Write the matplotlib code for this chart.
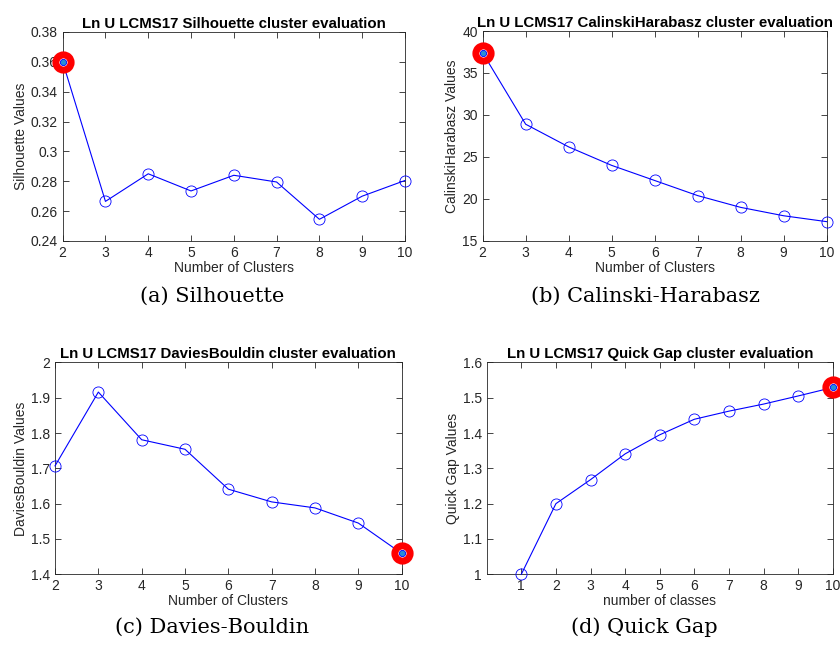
import matplotlib
matplotlib.use("Agg")
import matplotlib.pyplot as plt
from matplotlib.ticker import FuncFormatter

plt.rcParams['font.family'] = ['Liberation Sans', 'DejaVu Sans']

# Cluster evaluation results
clusters = [2, 3, 4, 5, 6, 7, 8, 9, 10]
silhouette = [0.360, 0.2665, 0.285, 0.2735, 0.284, 0.2795, 0.2545, 0.270, 0.2805]
calinski = [37.4, 28.9, 26.2, 24.0, 22.2, 20.4, 19.0, 18.0, 17.3]
davies = [1.707, 1.916, 1.781, 1.754, 1.641, 1.605, 1.588, 1.545, 1.459]
classes = [1, 2, 3, 4, 5, 6, 7, 8, 9, 10]
quickgap = [1.0, 1.2, 1.268, 1.341, 1.395, 1.439, 1.462, 1.482, 1.505, 1.529]

# Index of the optimal number of clusters for each criterion
best_sil, best_ch, best_db, best_qg = 0, 0, 8, 9

AX_COLOR = '#262626'
LINE_BLUE = '#0000ff'

fig = plt.figure(figsize=(8.4, 6.46), dpi=100)


def panel(rect, x, y, best, xlim, ylim, yticks, xticks, title, xlabel, ylabel, caption, cap_xy):
    ax = fig.add_axes(rect)
    ax.plot(x, y, '-', color=LINE_BLUE, lw=0.8, marker='o', ms=8, mfc='none',
            mec=LINE_BLUE, mew=0.6, zorder=3, clip_on=False)
    ax.plot(x[best], y[best], 'o', ms=11, mfc='white', mec='#ff0000', mew=5,
            zorder=4, clip_on=False)
    ax.plot(x[best], y[best], 'o', ms=4.5, mfc='#2a8fd6', mec='#0000ff', mew=0.6,
            zorder=5, clip_on=False)
    ax.set_xlim(*xlim)
    ax.set_ylim(*ylim)
    ax.set_xticks(xticks)
    ax.set_yticks(yticks)
    ax.yaxis.set_major_formatter(FuncFormatter(lambda v, p: '{:g}'.format(round(v, 6))))
    ax.tick_params(direction='in', top=True, right=True, length=4, width=0.6,
                   colors=AX_COLOR, labelsize=10, pad=3.5)
    for s in ax.spines.values():
        s.set_color(AX_COLOR)
        s.set_linewidth(0.6)
    ax.set_title(title, fontsize=10.8, fontweight='bold', pad=3, color='black')
    ax.set_xlabel(xlabel, fontsize=10, color=AX_COLOR, labelpad=0.5)
    ax.set_ylabel(ylabel, fontsize=10, color=AX_COLOR, labelpad=2)
    fig.text(cap_xy[0], cap_xy[1], caption, ha='center', va='center',
             fontsize=15, family='DejaVu Serif', color='black')
    return ax


panel([0.0746, 0.627, 0.4075, 0.3235], clusters, silhouette, best_sil,
      (2, 10), (0.24, 0.38), [0.24, 0.26, 0.28, 0.30, 0.32, 0.34, 0.36, 0.38],
      clusters, 'Ln U LCMS17 Silhouette cluster evaluation',
      'Number of Clusters', 'Silhouette Values', '(a) Silhouette',
      (212 / 840, 1 - 296 / 646))

panel([0.5746, 0.627, 0.4095, 0.325], clusters, calinski, best_ch,
      (2, 10), (15, 40), [15, 20, 25, 30, 35, 40],
      clusters, 'Ln U LCMS17 CalinskiHarabasz cluster evaluation',
      'Number of Clusters', 'CalinskiHarabasz Values', '(b) Calinski-Harabasz',
      (645 / 840, 1 - 296 / 646))

panel([0.0655, 0.111, 0.4127, 0.328], clusters, davies, best_db,
      (2, 10), (1.4, 2.0), [1.4, 1.5, 1.6, 1.7, 1.8, 1.9, 2.0],
      clusters, 'Ln U LCMS17 DaviesBouldin cluster evaluation',
      'Number of Clusters', 'DaviesBouldin Values', '(c) Davies-Bouldin',
      (212 / 840, 1 - 627 / 646))

panel([0.5794, 0.111, 0.412, 0.328], classes, quickgap, best_qg,
      (0, 10), (1.0, 1.6), [1.0, 1.1, 1.2, 1.3, 1.4, 1.5, 1.6],
      classes, 'Ln U LCMS17 Quick Gap cluster evaluation',
      'number of classes', 'Quick Gap Values', '(d) Quick Gap',
      (644 / 840, 1 - 627 / 646))

fig.savefig('out.png', dpi=100, facecolor='white')
